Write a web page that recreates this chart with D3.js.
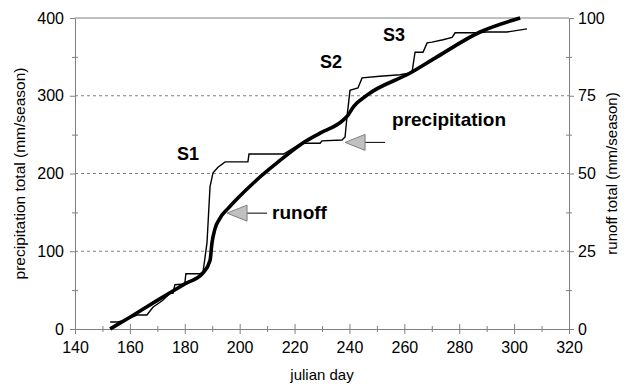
<!DOCTYPE html>
<html lang="en">
<head>
<meta charset="UTF-8">
<title>precipitation and runoff</title>
<style>
  body { margin: 0; background: #fff; }
  text { font-family: Arial, "Liberation Sans", sans-serif; }
</style>
</head>
<body>
<svg id="chart" width="632" height="386"></svg>
<script src="https://d3js.org/d3.v7.min.js"></script>
<script>

// cumulative precipitation (mm/season), left axis
var precipDays = [152.8, 155.5, 158, 162.6, 166.2, 168.4, 172, 174.6, 175.7, 176.4, 180, 180.4, 185.5, 186.6,
    188.1, 189.2, 190.3, 192.1, 194.7, 203, 203.4, 216, 222.5, 229.3, 230, 237.3, 238.4, 239.1, 239.5, 240.2,
    243.1, 244.6, 251.1, 258.4, 261.6, 262.8, 263.9, 266.8, 268.3, 270.1, 274.1, 277.4, 278.5, 286.5, 290, 297.4, 304.7];
var precipValues = [9, 9, 11, 18, 18, 28, 37, 46, 46, 57, 58, 71, 71, 72,
    111, 183, 201, 208, 215, 215, 225, 225, 239, 239, 242, 243, 247, 273, 285, 307,
    310, 323, 325, 327, 329, 330, 356, 356, 368, 369, 372, 375, 381, 381, 382, 382, 386];

// cumulative runoff (mm/season), right axis
var runoffDays = [152.8, 160, 170, 180, 186.6, 189.2, 189.9, 191, 192.8, 195.8, 199, 206.3, 213.6, 222,
    229.3, 237.5, 239.5, 241.5, 246.4, 262.1, 271.9, 287.6, 302.2];
var runoffValues = [0, 3.8, 9.2, 14.5, 18, 22, 27.6, 32.2, 35.6, 38.8, 41.8, 48, 53.4, 59.2,
    63, 67, 68.8, 71.5, 75.2, 82.3, 87.5, 95.5, 100];

var dayTicks = [140, 160, 180, 200, 220, 240, 260, 280, 300, 320];
var precipTicks = [0, 100, 200, 300, 400];
var runoffTicks = [0, 25, 50, 75, 100];

// storm labels, in data units
var stormLabels = ["S1", "S2", "S3"];
var stormDays = [177.2, 229.3, 252.2];
var stormPrecip = [217, 336, 370];

var svg = d3.select("#chart"),
    plotL = 75, plotR = 569, plotT = 18, plotB = 329;

var x = d3.scaleLinear().domain([140, 320]).range([plotL, plotR]),
    yL = d3.scaleLinear().domain([0, 400]).range([plotB, plotT]),
    yR = d3.scaleLinear().domain([0, 100]).range([plotB, plotT]);

var axisColor = "#808080";

// dashed grid
svg.append("g").selectAll("line")
    .data([100, 200, 300])
    .enter().append("line")
    .attr("x1", plotL).attr("x2", plotR)
    .attr("y1", function (d) { return yL(d); })
    .attr("y2", function (d) { return yL(d); })
    .attr("stroke", axisColor)
    .attr("stroke-dasharray", "3,3");

// top frame line
svg.append("line")
    .attr("x1", plotL).attr("x2", plotR).attr("y1", plotT).attr("y2", plotT)
    .attr("stroke", axisColor);

function styleAxis(g) {
    g.selectAll("path, line").attr("stroke", axisColor);
    g.selectAll("text").attr("fill", "#000").style("font-size", "16px");
}

// bottom axis, ticks crossing
svg.append("g").attr("transform", "translate(0," + plotB + ")")
    .call(d3.axisBottom(x).tickValues(dayTicks).tickSize(5).tickSizeOuter(0).tickPadding(8))
    .call(styleAxis);
svg.append("g").attr("transform", "translate(0," + plotB + ")")
    .call(d3.axisBottom(x).tickValues(dayTicks).tickSize(-5).tickSizeOuter(0).tickFormat(""))
    .call(styleAxis);
svg.append("g").attr("transform", "translate(0," + plotB + ")")
    .call(d3.axisBottom(x).tickValues(d3.range(150, 320, 20)).tickSize(3).tickSizeOuter(0).tickFormat(""))
    .call(styleAxis).select(".domain").remove();
svg.append("g").attr("transform", "translate(0," + plotB + ")")
    .call(d3.axisBottom(x).tickValues(d3.range(150, 320, 20)).tickSize(-3).tickSizeOuter(0).tickFormat(""))
    .call(styleAxis).select(".domain").remove();

// left axis
svg.append("g").attr("transform", "translate(" + plotL + ",0)")
    .call(d3.axisLeft(yL).tickValues(precipTicks).tickSize(5).tickSizeOuter(0).tickPadding(6))
    .call(styleAxis);
svg.append("g").attr("transform", "translate(" + plotL + ",0)")
    .call(d3.axisLeft(yL).tickValues([50, 150, 250, 350]).tickSize(3).tickSizeOuter(0).tickFormat(""))
    .call(styleAxis).select(".domain").remove();
svg.append("g").attr("transform", "translate(" + plotL + ",0)")
    .call(d3.axisLeft(yL).tickValues([50, 150, 250, 350]).tickSize(-3).tickSizeOuter(0).tickFormat(""))
    .call(styleAxis).select(".domain").remove();

// right axis
svg.append("g").attr("transform", "translate(" + plotR + ",0)")
    .call(d3.axisRight(yR).tickValues(runoffTicks).tickSize(5).tickSizeOuter(0).tickPadding(4))
    .call(styleAxis);
svg.append("g").attr("transform", "translate(" + plotR + ",0)")
    .call(d3.axisRight(yR).tickValues([12.5, 37.5, 62.5, 87.5]).tickSize(3).tickSizeOuter(0).tickFormat(""))
    .call(styleAxis).select(".domain").remove();
svg.append("g").attr("transform", "translate(" + plotR + ",0)")
    .call(d3.axisRight(yR).tickValues([12.5, 37.5, 62.5, 87.5]).tickSize(-3).tickSizeOuter(0).tickFormat(""))
    .call(styleAxis).select(".domain").remove();

// axis titles
svg.append("text")
    .attr("x", (plotL + plotR) / 2).attr("y", 380)
    .attr("text-anchor", "middle").style("font-size", "15px")
    .text("julian day");
svg.append("text")
    .attr("transform", "translate(25," + (plotT + plotB) / 2 + ") rotate(-90)")
    .attr("text-anchor", "middle").style("font-size", "15.5px")
    .text("precipitation total (mm/season)");
svg.append("text")
    .attr("transform", "translate(617," + (plotT + plotB) / 2 + ") rotate(-90)")
    .attr("text-anchor", "middle").style("font-size", "15px")
    .text("runoff total (mm/season)");

// series
var precipLine = d3.line()
    .x(function (d, i) { return x(precipDays[i]); })
    .y(function (d) { return yL(d); });
var runoffLine = d3.line()
    .x(function (d, i) { return x(runoffDays[i]); })
    .y(function (d) { return yR(d); })
    .curve(d3.curveMonotoneX);

svg.append("path").datum(precipValues)
    .attr("d", precipLine)
    .attr("fill", "none").attr("stroke", "#000").attr("stroke-width", 1.4);
svg.append("path").datum(runoffValues)
    .attr("d", runoffLine)
    .attr("fill", "none").attr("stroke", "#000").attr("stroke-width", 3.6)
    .attr("stroke-linejoin", "round");

// storm labels
svg.append("g").selectAll("text")
    .data(stormLabels)
    .enter().append("text")
    .attr("x", function (d, i) { return x(stormDays[i]); })
    .attr("y", function (d, i) { return yL(stormPrecip[i]); })
    .style("font-size", "18px").style("font-weight", "bold")
    .text(function (d) { return d; });

// arrows
function arrow(tipDay, tipVal, label, textDx, textDy) {
    var tx = x(tipDay), ty = yL(tipVal);
    var g = svg.append("g");
    g.append("line")
        .attr("x1", tx + 18).attr("x2", tx + 40).attr("y1", ty).attr("y2", ty)
        .attr("stroke", "#000").attr("stroke-width", 1);
    g.append("path")
        .attr("d", "M" + tx + "," + ty + "L" + (tx + 20) + "," + (ty - 8) + "L" + (tx + 20) + "," + (ty + 8) + "Z")
        .attr("fill", "#c0c0c0").attr("stroke", "#808080").attr("stroke-width", 1);
    g.append("text")
        .attr("x", tx + textDx).attr("y", ty + textDy)
        .style("font-size", "19px").style("font-weight", "bold")
        .text(label);
}
arrow(195.4, 149, "runoff", 45, 6);
arrow(238.4, 240, "precipitation", 47, -16);

</script>
</body>
</html>
